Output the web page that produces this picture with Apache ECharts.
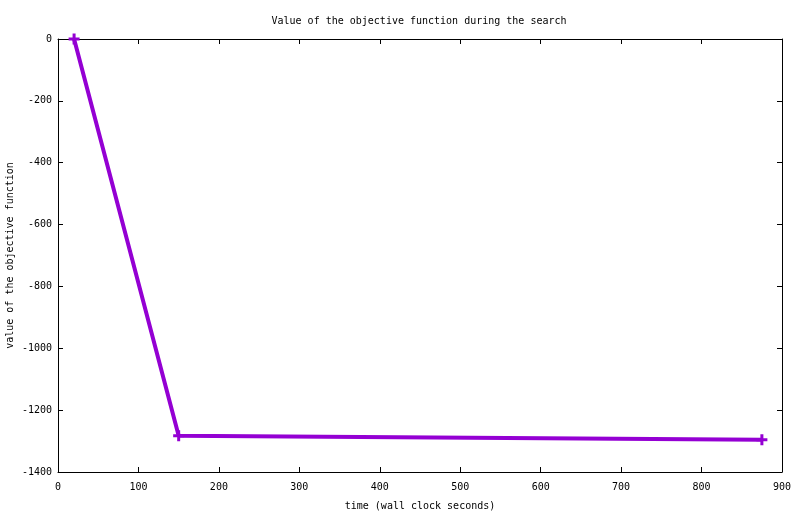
<!DOCTYPE html>
<html>
<head>
<meta charset="utf-8">
<script src="https://cdn.jsdelivr.net/npm/echarts@6/dist/echarts.min.js"></script>
<style>
  html, body { margin: 0; padding: 0; background: #fff; }
  #chart { width: 800px; height: 514px; }
</style>
</head>
<body>
<div id="chart"></div>
<script>
var times = [20, 150, 875];
var objective = [0, -1283, -1296];

var xTicks = { min: 0, max: 900, interval: 100 };
var yTicks = { min: -1400, max: 0, interval: 200 };

var font = 'DejaVu Sans Mono';
var myChart = echarts.init(document.getElementById('chart'));

var points = [];
for (var i = 0; i < times.length; i++) {
    points.push([times[i], objective[i]]);
}

function plain(v) { return String(v); }

function axisBase(extra) {
    var a = {
        type: 'value',
        splitLine: { show: false },
        axisLine: { show: true, onZero: false, lineStyle: { color: '#000', width: 1 } },
        axisTick: { show: true, inside: true, length: 5, lineStyle: { color: '#000' } },
        axisLabel: { color: '#000', fontFamily: font, fontSize: 10, formatter: plain }
    };
    for (var k in extra) a[k] = extra[k];
    return a;
}

var option = {
    animation: false,
    backgroundColor: '#fff',
    title: {
        text: 'Value of the objective function during the search',
        left: 414,
        top: 11,
        textAlign: 'center',
        textStyle: { color: '#000', fontFamily: font, fontSize: 10, fontWeight: 'normal' }
    },
    grid: { left: 58, right: 18, top: 39, bottom: 42, outerBoundsMode: 'none', containLabel: false },
    xAxis: [
        axisBase({
            position: 'bottom',
            min: xTicks.min, max: xTicks.max, interval: xTicks.interval,
            name: 'time (wall clock seconds)',
            nameLocation: 'middle',
            nameGap: 29,
            nameMoveOverlap: false,
            nameTextStyle: { color: '#000', fontFamily: font, fontSize: 10 },
            axisLabel: { color: '#000', fontFamily: font, fontSize: 10, margin: 10, formatter: plain }
        }),
        axisBase({
            position: 'top',
            min: xTicks.min, max: xTicks.max, interval: xTicks.interval,
            axisLabel: { show: false }
        })
    ],
    yAxis: [
        axisBase({
            position: 'left',
            min: yTicks.min, max: yTicks.max, interval: yTicks.interval,
            name: 'value of the objective function',
            nameLocation: 'middle',
            nameGap: 43,
            nameMoveOverlap: false,
            nameRotate: 90,
            nameTextStyle: { color: '#000', fontFamily: font, fontSize: 10 },
            axisLabel: { color: '#000', fontFamily: font, fontSize: 10, margin: 6, formatter: plain }
        }),
        axisBase({
            position: 'right',
            min: yTicks.min, max: yTicks.max, interval: yTicks.interval,
            axisLabel: { show: false }
        })
    ],
    series: [
        {
            type: 'line',
            data: points,
            xAxisIndex: 0,
            yAxisIndex: 0,
            symbol: 'path://M4,0H7V4H11V7H7V11H4V7H0V4H4Z',
            symbolSize: 11,
            showAllSymbol: true,
            itemStyle: { color: '#9400d3' },
            lineStyle: { color: '#9400d3', width: 4 },
            emphasis: { disabled: true },
            silent: true
        }
    ]
};
myChart.setOption(option);
</script>
</body>
</html>
